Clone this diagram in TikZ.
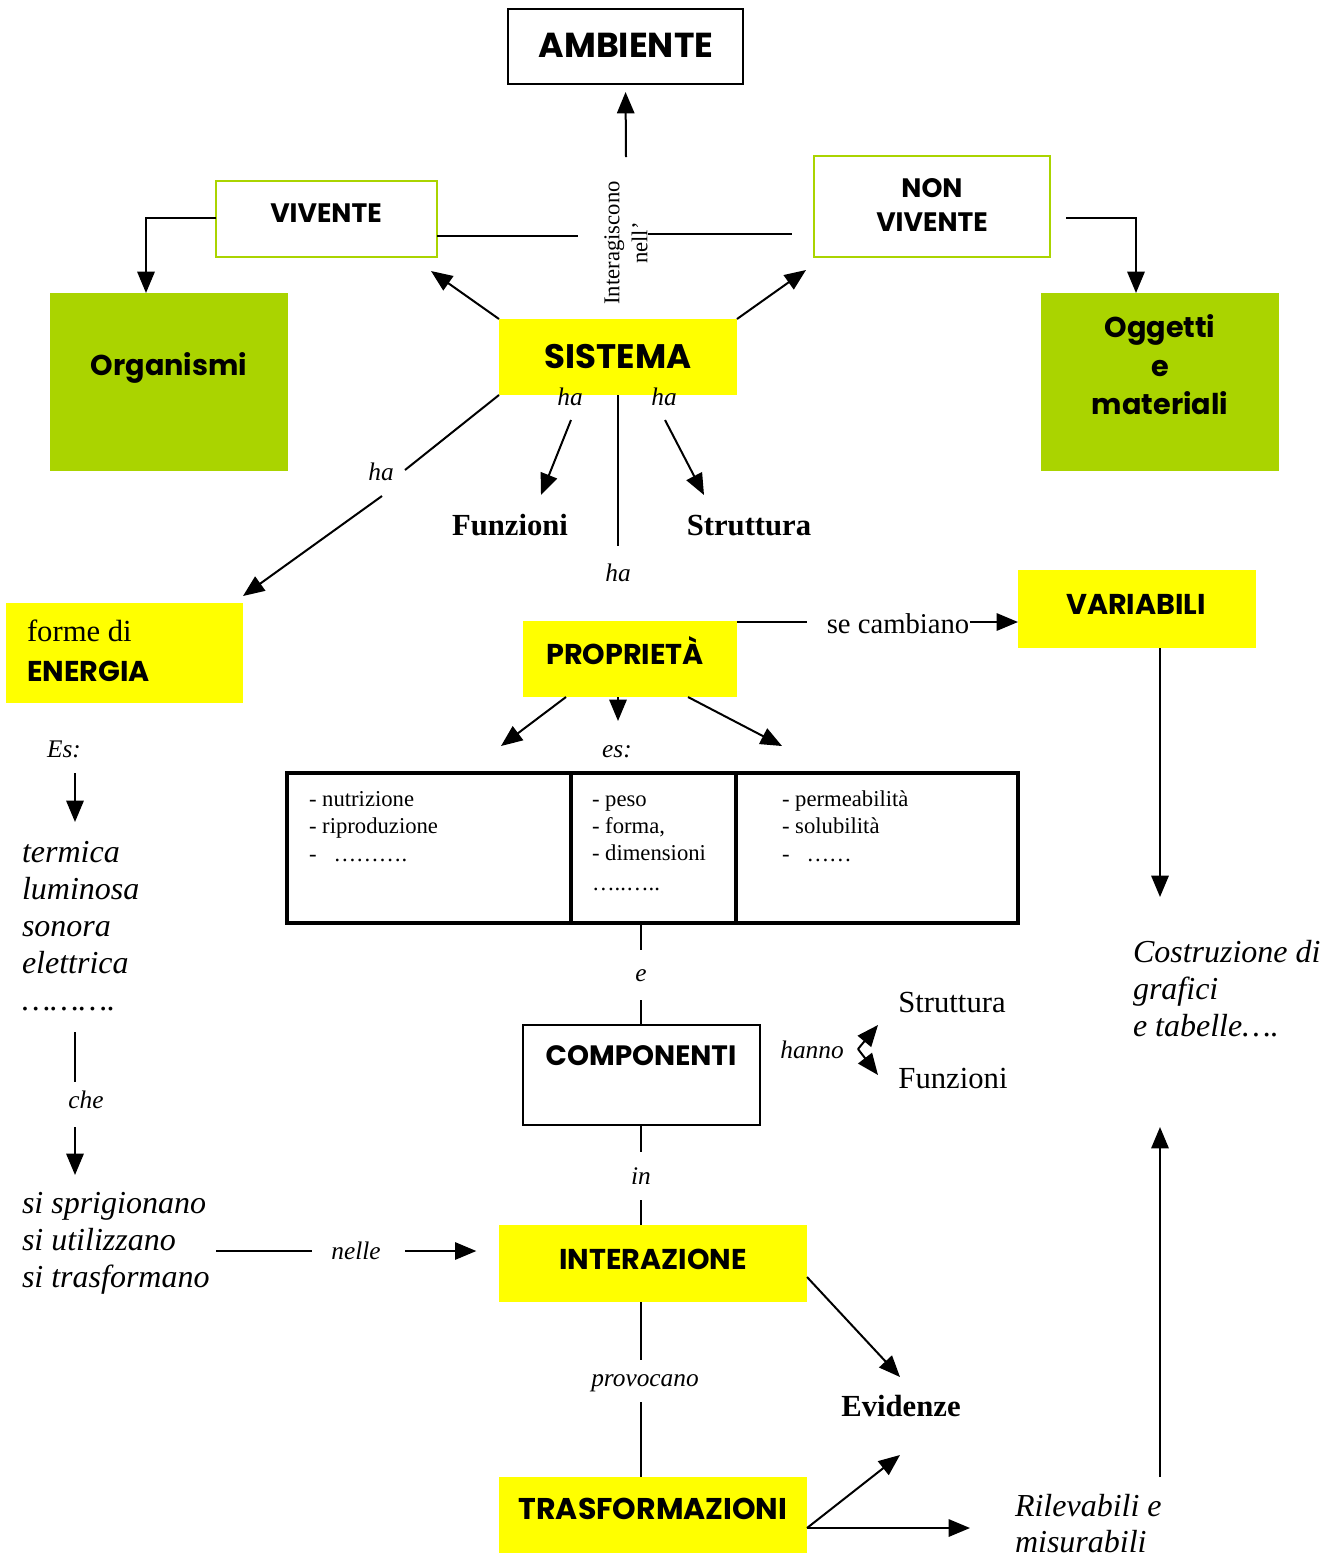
\documentclass[tikz,border=0pt]{standalone}
\usepackage{fontspec}
\setmainfont{Liberation Serif}
\newfontfamily\popf{Poppins}
\usetikzlibrary{arrows.meta}
\definecolor{ygreen}{RGB}{170,212,0}
\definecolor{yel}{RGB}{255,255,0}
\begin{document}
\begin{tikzpicture}[x=0.75pt,y=-0.75pt,
  every node/.style={inner sep=0pt,outer sep=0pt},
  bx/.style n args={2}{minimum width=#1*0.75pt,minimum height=#2*0.75pt,anchor=north west},
  ybox/.style={fill=yel},
  gbox/.style={fill=ygreen},
  wbox/.style={draw=black,line width=1.5pt,fill=white},
  vbox/.style={draw=ygreen,line width=1.5pt,fill=white},
  cell/.style={draw=black,line width=2.6pt},
  ttl/.style={font=\popf\bfseries\fontsize{21.5}{25}\selectfont,anchor=base},
  bigttl/.style={font=\popf\bfseries\fontsize{26}{30}\selectfont,anchor=base},
  smttl/.style={font=\popf\bfseries\fontsize{20}{24}\selectfont,anchor=base},
  bs/.style={font=\bfseries\fontsize{23}{28}\selectfont,anchor=base},
  rm/.style={font=\fontsize{23}{28}\selectfont,anchor=base},
  itl/.style={font=\itshape\fontsize{19}{23}\selectfont,anchor=base},
  itb/.style={font=\itshape\fontsize{24}{29}\selectfont,anchor=base west},
  tbl/.style={font=\fontsize{17}{20}\selectfont,anchor=base west},
  ln/.style={line width=1.5pt},
  ar/.style={line width=1.5pt,-{Triangle[length=16pt,width=13pt]}}
]
\useasboundingbox (0,0) rectangle (1339,1557);

% boxes
\node[bx={235}{75},wbox] (amb) at (508,9) {};
\node[bx={221}{76},vbox] (viv) at (216,181) {};
\node[bx={236}{101},vbox] (nviv) at (814,156) {};
\node[bx={238}{178},gbox] (org) at (50,293) {};
\node[bx={238}{178},gbox] (ogg) at (1041,293) {};
\node[bx={238}{76},ybox] (sis) at (499,319) {};
\node[bx={237}{100},ybox] (ene) at (6,603) {};
\node[bx={214}{76},ybox] (prop) at (523,621) {};
\node[bx={238}{78},ybox] (var) at (1018,570) {};
\node[bx={237}{100},wbox] (comp) at (523,1025) {};
\node[bx={308}{77},ybox] (intz) at (499,1225) {};
\node[bx={308}{76},ybox] (trasf) at (499,1477) {};
\node[bx={284}{150},cell] (c1) at (287,773) {};
\node[bx={165}{150},cell] (c2) at (571,773) {};
\node[bx={282}{150},cell] (c3) at (736,773) {};

% titles
\node[bigttl] (tamb) at (626,57) {AMBIENTE};
\node[smttl] (tviv) at (326,222) {VIVENTE};
\node[smttl] (tnon) at (932,197) {NON};
\node[smttl] (tnviv) at (932,231) {VIVENTE};
\node[ttl] (torg) at (169,375) {Organismi};
\node[ttl] (togg1) at (1160,337) {Oggetti};
\node[ttl] (togg2) at (1160,376) {e};
\node[ttl] (togg3) at (1160,414) {materiali};
\node[bigttl,font=\popf\bfseries\fontsize{25.5}{30}\selectfont] (tsis) at (618,368) {SISTEMA};
\node[rm,anchor=base west] (tforme) at (27,641) {forme di};
\node[ttl,anchor=base west] (tene) at (27,681) {ENERGIA};
\node[ttl] (tprop) at (625,664) {PROPRIETÀ};
\node[ttl] (tvar) at (1136,614) {VARIABILI};
\node[ttl,font=\popf\bfseries\fontsize{21}{25}\selectfont] (tcomp) at (641,1065) {COMPONENTI};
\node[ttl] (tint) at (653,1269) {INTERAZIONE};
\node[ttl,font=\popf\bfseries\fontsize{22.5}{26}\selectfont] (ttra) at (653,1519) {TRASFORMAZIONI};

% vertical label
\node[font=\fontsize{17}{21}\selectfont,rotate=90,align=center] (inter) at (626,243) {Interagiscono\\nell'};

% serif labels
\node[itl] (ha1) at (570,405) {ha};
\node[itl] (ha2) at (664,405) {ha};
\node[itl] (ha3) at (381,480) {ha};
\node[itl] (ha4) at (618,581) {ha};
\node[bs] (funz) at (510,535) {Funzioni};
\node[bs] (strut) at (749,535) {Struttura};
\node[rm,font=\fontsize{21.5}{26}\selectfont] (secamb) at (898,633) {se cambiano};
\node[itl] (es) at (617,757) {es:};
\node[itl] (Es) at (64,757) {Es:};
\node[itl] (le) at (641,981) {e};
\node[itl] (hanno) at (812,1058) {hanno};
\node[rm] (strut2) at (952,1012) {Struttura};
\node[rm] (funz2) at (953,1088) {Funzioni};
\node[itl] (lin) at (641,1184) {in};
\node[itl] (nelle) at (356,1259) {nelle};
\node[itl] (che) at (86,1108) {che};
\node[itl] (prov) at (645,1386) {provocano};
\node[bs] (evid) at (901,1416) {Evidenze};

% table text
\node[tbl] (a1) at (309,806) {- nutrizione};
\node[tbl] (a2) at (309,833) {- riproduzione};
\node[tbl] (a3) at (309,861) {-\ \ \ ……….};
\node[tbl] (b1) at (592,806) {- peso};
\node[tbl] (b2) at (592,833) {- forma,};
\node[tbl] (b3) at (592,860) {- dimensioni};
\node[tbl] (b4) at (592,890) {…..…..};
\node[tbl] (d1) at (782,806) {- permeabilità};
\node[tbl] (d2) at (782,833) {- solubilità};
\node[tbl] (d3) at (782,861) {-\ \ \ ……};

% italic lists
\node[itb] (l1) at (22,862) {termica};
\node[itb] (l2) at (22,899) {luminosa};
\node[itb] (l3) at (22,936) {sonora};
\node[itb] (l4) at (22,973) {elettrica};
\node[itb] (l5) at (22,1010) {……….};
\node[itb] (s1) at (22,1213) {si sprigionano};
\node[itb] (s2) at (22,1250) {si utilizzano};
\node[itb] (s3) at (22,1287) {si trasformano};
\node[itb] (k1) at (1133,962) {Costruzione di};
\node[itb] (k2) at (1133,999) {grafici};
\node[itb] (k3) at (1133,1036) {e tabelle….};
\node[itb] (r1) at (1015,1516) {Rilevabili e};
\node[itb] (r2) at (1015,1552) {misurabili};

% coordinates
\coordinate (p1) at (626,157);
\coordinate (p2) at (578,236);
\coordinate (p3) at (648,234);
\coordinate (p4) at (792,234);
\coordinate (p5) at (146,218);
\coordinate (p6) at (1066,218);
\coordinate (p7) at (1136,218);

% connectors top
\draw[ar,shorten >=6pt] (p1) -- (amb.south);
\draw[ln] (viv.east|-p2) -- (p2);
\draw[ln] (p3) -- (p4);
\draw[ar] (viv.west|-p5) -- (p5) -- (org.north-|p5);
\draw[ar] (p6) -- (p7) -- (ogg.north-|p7);
\draw[ar] (sis.north west) -- (431,271);
\draw[ar] (sis.north east) -- (806,270);
\draw[ar] (571,420) -- (541,495);
\draw[ar] (665,420) -- (704,495);
\draw[ln] (618,395) -- (618,546);
\draw[ln] (sis.south west) -- (405,470);
\draw[ar] (382,496) -- (243,596);

% proprieta
\draw[ln] (737,622) -- (807,622);
\draw[ar] (970,622) -- (var.west|-0,622);
\draw[ar] (1160,648) -- (1160,897);
\draw[ar] (1160,1477) -- (1160,1127);
\draw[ar] (566,697) -- (501,746);
\draw[ar] (618,697) -- (618,721);
\draw[ar] (688,697) -- (782,746);

% middle column
\draw[ln] (641,925) -- (641,950);
\draw[ln] (641,1000) -- (comp.north-|641,0);
\draw[ar] (858,1049) -- (878,1025);
\draw[ar] (858,1049) -- (878,1075);
\draw[ln] (comp.south-|641,0) -- (641,1152);
\draw[ln] (641,1200) -- (intz.north-|641,0);
\draw[ln] (intz.south-|641,0) -- (641,1360);
\draw[ln] (641,1402) -- (trasf.north-|641,0);
\draw[ar] (807,1277) -- (900,1377);
\draw[ar] (807,1528) -- (900,1455);
\draw[ar] (807,1528) -- (970,1528);

% left column
\draw[ar] (75,773) -- (75,822);
\draw[ln] (75,1032) -- (75,1082);
\draw[ar] (75,1127) -- (75,1175);
\draw[ln] (216,1251) -- (312,1251);
\draw[ar,shorten >=17pt] (405,1251) -- (intz.west|-0,1251);
\end{tikzpicture}
\end{document}
